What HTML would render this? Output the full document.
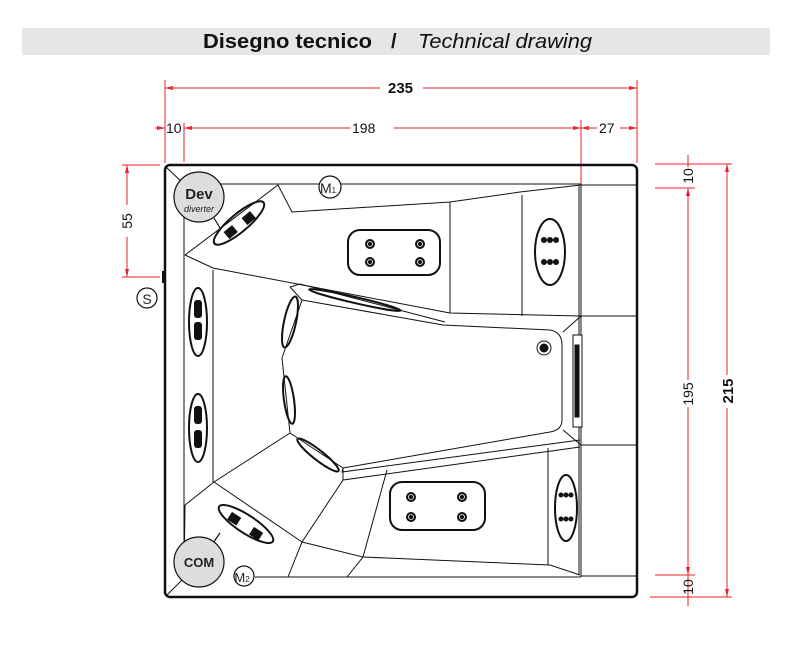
<!DOCTYPE html>
<html><head><meta charset="utf-8"><style>
html,body{margin:0;padding:0;background:#fff;width:812px;height:651px;overflow:hidden}
svg{display:block}
</style></head><body>
<svg width="812" height="651" viewBox="0 0 812 651" xmlns="http://www.w3.org/2000/svg" font-family="Liberation Sans, sans-serif">
<rect x="22" y="28" width="748" height="27" fill="#e6e6e6"/>
<text x="203" y="48" font-size="20" font-weight="bold" fill="#111" textLength="169" lengthAdjust="spacingAndGlyphs">Disegno tecnico</text>
<text x="391" y="48" font-size="20" font-weight="bold" fill="#111">/</text>
<text x="418" y="48" font-size="20" font-style="italic" fill="#111" textLength="174" lengthAdjust="spacingAndGlyphs">Technical drawing</text>

<g stroke="#e8202a" stroke-width="1" fill="none">
<line x1="165" y1="80" x2="165" y2="163"/><line x1="637" y1="80" x2="637" y2="163"/>
<line x1="184" y1="123" x2="184" y2="162"/><line x1="581" y1="120" x2="581" y2="185"/>
<line x1="165" y1="88" x2="380" y2="88"/><line x1="423" y1="88" x2="637" y2="88"/>
<line x1="155" y1="128" x2="165" y2="128"/><line x1="184" y1="128" x2="350" y2="128"/><line x1="394" y1="128" x2="581" y2="128"/>
<line x1="581" y1="128" x2="597" y2="128"/><line x1="620" y1="128" x2="637" y2="128"/>
<line x1="122" y1="165" x2="160" y2="165"/><line x1="122" y1="277" x2="160" y2="277"/>
<line x1="127" y1="165" x2="127" y2="205"/><line x1="127" y1="237" x2="127" y2="277"/>
<line x1="655" y1="164" x2="732" y2="164"/><line x1="655" y1="188" x2="695" y2="188"/>
<line x1="655" y1="575" x2="695" y2="575"/><line x1="650" y1="597" x2="732" y2="597"/>
<line x1="688" y1="155" x2="688" y2="167"/><line x1="688" y1="188" x2="688" y2="380"/><line x1="688" y1="407" x2="688" y2="575"/>
<line x1="688" y1="575" x2="688" y2="606"/>
<line x1="727" y1="164" x2="727" y2="375"/><line x1="727" y1="408" x2="727" y2="597"/>
</g>
<g fill="#e8202a">
<path d="M165,88 l8,-2 v4z"/><path d="M637,88 l-8,-2 v4z"/>
<path d="M184,128 l8,-2 v4z"/><path d="M581,128 l-8,-2 v4z"/><path d="M581,128 l8,-2 v4z"/><path d="M637,128 l-8,-2 v4z"/><path d="M165,128 l-8,-2 v4z"/>
<path d="M127,165 l-2,8 h4z"/><path d="M127,277 l-2,-8 h4z"/>
<path d="M727,164 l-2,8 h4z"/><path d="M727,597 l-2,-8 h4z"/>
<path d="M688,188 l-2,8 h4z"/><path d="M688,575 l-2,-8 h4z"/>
</g>
<g fill="#111" font-size="14">
<text x="388" y="93" font-weight="bold" font-size="15">235</text>
<text x="166" y="133">10</text>
<text x="352" y="133">198</text>
<text x="599" y="133">27</text>
<text transform="translate(132,221) rotate(-90)" text-anchor="middle">55</text>
<text transform="translate(693,176) rotate(-90)" text-anchor="middle">10</text>
<text transform="translate(693,394) rotate(-90)" text-anchor="middle">195</text>
<text transform="translate(693,587) rotate(-90)" text-anchor="middle">10</text>
<text transform="translate(733,391) rotate(-90)" text-anchor="middle" font-weight="bold" font-size="15">215</text>
</g>

<g stroke="#111" fill="none" stroke-width="1">
<rect x="165" y="165" width="472" height="432" rx="5" stroke-width="2.5"/>
<line x1="184" y1="185" x2="184" y2="577"/>
<line x1="215" y1="184" x2="581" y2="184"/>
<line x1="581" y1="184" x2="581" y2="577"/>
<line x1="579" y1="186" x2="579" y2="575"/>
<line x1="581" y1="185" x2="637" y2="185"/><line x1="581" y1="316" x2="637" y2="316"/>
<line x1="581" y1="445" x2="637" y2="445"/><line x1="581" y1="576" x2="637" y2="576"/>
<line x1="255" y1="577" x2="581" y2="577"/>
<line x1="166" y1="167" x2="185" y2="185"/><line x1="166" y1="596" x2="185" y2="577"/>
<path d="M185,255 L278,185 L292,212 L450,202 L520,192 L581,185"/>
<path d="M185,255 L213,268 L450,313 L581,316"/>
<line x1="213" y1="270" x2="213" y2="482"/>
<line x1="450" y1="202" x2="450" y2="313"/>
<line x1="522" y1="195" x2="522" y2="316"/>
<path d="M290,287 L302,300 L282,358 L290,433 L343,468"/>
<path d="M302,300 L443,325 L550,330 Q562,332 562,345 L562,420 Q562,430 550,432 L343,468"/>
<path d="M290,287 L300,284 L445,322"/>
<path d="M563,332 L581,316"/><path d="M563,430 L581,445"/>
<path d="M343,468 L342,472 L580,440"/>
<path d="M343,468 L343,480 L580,447"/>
<line x1="548" y1="448" x2="548" y2="565"/>
<path d="M343,480 L302,542 L288,577"/>
<path d="M302,542 L363,557 L347,577"/>
<path d="M363,557 L550,565 L580,575"/>
<line x1="387" y1="470" x2="363" y2="557"/>
<path d="M185,505 L214,482 L290,433"/>
<path d="M214,482 L302,542"/>
<line x1="185" y1="505" x2="184" y2="577"/>
<rect x="573" y="335" width="9" height="92" fill="#fff"/>
<rect x="575" y="345" width="4" height="72" fill="#111"/>
<rect x="348" y="230" width="92" height="45" rx="12" stroke-width="2"/>
<rect x="390" y="482" width="95" height="48" rx="12" stroke-width="2"/>
<ellipse cx="550" cy="252" rx="15" ry="33" stroke-width="2"/>
<ellipse cx="566" cy="508" rx="11" ry="33" stroke-width="2"/>
<ellipse cx="198" cy="322" rx="9" ry="34" stroke-width="2"/>
<ellipse cx="198" cy="428" rx="9" ry="34" stroke-width="2"/>
<ellipse cx="239" cy="223" rx="32" ry="9" transform="rotate(-40 239 223)" stroke-width="2"/>
<ellipse cx="246" cy="524" rx="32" ry="9" transform="rotate(33 246 524)" stroke-width="2"/>
<ellipse cx="290" cy="322" rx="6" ry="26" transform="rotate(12 290 322)" stroke-width="2"/>
<ellipse cx="289" cy="400" rx="5" ry="24" transform="rotate(-8 289 400)" stroke-width="2"/>
<ellipse cx="318" cy="455" rx="26" ry="5" transform="rotate(38 318 455)" stroke-width="2"/>
<ellipse cx="355" cy="300" rx="47" ry="3" transform="rotate(13 355 300)" stroke-width="2"/>
</g>
<g fill="#111">
<circle cx="370" cy="244" r="5"/><circle cx="420" cy="244" r="5"/><circle cx="370" cy="262" r="5"/><circle cx="420" cy="262" r="5"/>
<circle cx="411" cy="497" r="5"/><circle cx="462" cy="497" r="5"/><circle cx="411" cy="517" r="5"/><circle cx="462" cy="517" r="5"/>
<circle cx="544" cy="240" r="3"/><circle cx="550" cy="240" r="3"/><circle cx="556" cy="240" r="3"/>
<circle cx="544" cy="262" r="3"/><circle cx="550" cy="262" r="3"/><circle cx="556" cy="262" r="3"/>
<circle cx="561" cy="495" r="2.5"/><circle cx="566" cy="495" r="2.5"/><circle cx="571" cy="495" r="2.5"/>
<circle cx="561" cy="519" r="2.5"/><circle cx="566" cy="519" r="2.5"/><circle cx="571" cy="519" r="2.5"/>
<rect x="194" y="300" width="8" height="18" rx="3"/><rect x="194" y="322" width="8" height="18" rx="3"/>
<rect x="194" y="406" width="8" height="18" rx="3"/><rect x="194" y="430" width="8" height="18" rx="3"/>
<rect x="225" y="228" width="11" height="9" transform="rotate(-40 230 232)"/><rect x="243" y="214" width="11" height="9" transform="rotate(-40 248 218)"/>
<rect x="229" y="514" width="11" height="9" transform="rotate(33 234 518)"/><rect x="251" y="529" width="11" height="9" transform="rotate(33 256 533)"/>
<rect x="162" y="271" width="4" height="12"/>
<circle cx="544" cy="348" r="4.5"/>
</g>
<g fill="none" stroke="#fff" stroke-width="0.8">
<circle cx="370" cy="244" r="2.5"/><circle cx="420" cy="244" r="2.5"/><circle cx="370" cy="262" r="2.5"/><circle cx="420" cy="262" r="2.5"/>
<circle cx="411" cy="497" r="2.5"/><circle cx="462" cy="497" r="2.5"/><circle cx="411" cy="517" r="2.5"/><circle cx="462" cy="517" r="2.5"/>
</g>
<circle cx="544" cy="348" r="7" fill="none" stroke="#111"/>
<g stroke="#111" fill="#ddd" stroke-width="1.2">
<line x1="214" y1="218" x2="220" y2="228"/>
<line x1="213" y1="543" x2="220" y2="533"/>
<circle cx="199" cy="197" r="25"/>
<circle cx="199" cy="562" r="25"/>
<circle cx="330" cy="187" r="11" fill="#fff"/>
<circle cx="244" cy="576" r="10" fill="#fff"/>
<circle cx="147" cy="298" r="10" fill="#fff"/>
</g>
<g fill="#222" text-anchor="middle">
<text x="199" y="199" font-size="15" font-weight="bold">Dev</text>
<text x="199" y="212" font-size="9" font-style="italic">diverter</text>
<text x="199" y="567" font-size="13" font-weight="bold">COM</text>
<text x="328" y="193" font-size="14">M<tspan font-size="8">1</tspan></text>
<text x="242" y="582" font-size="13">M<tspan font-size="8">2</tspan></text>
<text x="147" y="304" font-size="14">S</text>
</g>
</svg>
</body></html>
